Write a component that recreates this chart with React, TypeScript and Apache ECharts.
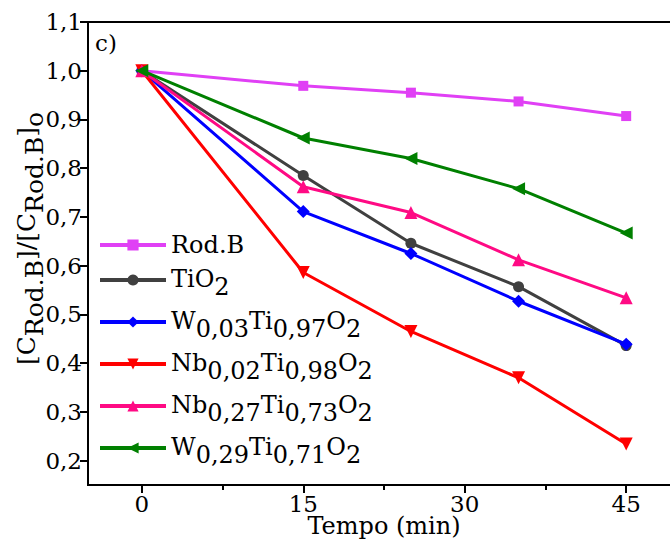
import React, { useEffect, useRef } from 'react';
import * as echarts from 'echarts';

const times = [0, 15, 25, 35, 45];
const rodB = [1.0, 0.969, 0.955, 0.937, 0.907];
const tio2 = [1.0, 0.785, 0.646, 0.557, 0.436];
const w003 = [1.0, 0.711, 0.625, 0.527, 0.439];
const nb002 = [1.0, 0.586, 0.465, 0.37, 0.234];
const nb027 = [1.0, 0.762, 0.709, 0.612, 0.534];
const w029 = [1.0, 0.862, 0.82, 0.758, 0.667];

const xTicks = [0, 15, 30, 45];
const xMinorTicks = [7.5, 22.5, 37.5];
const yTicks = [0.2, 0.3, 0.4, 0.5, 0.6, 0.7, 0.8, 0.9, 1.0, 1.1];

const seriesNames = ['Rod.B', 'TiO2', 'W0,03Ti0,97O2', 'Nb0,02Ti0,98O2', 'Nb0,27Ti0,73O2', 'W0,29Ti0,71O2'];
const legendLabels = [
  '{r|Rod.B}',
  '{n|TiO}{s|2}',
  '{n|W}{s|0,03}{n|Ti}{s|0,97}{n|O}{s|2}',
  '{n|Nb}{s|0,02}{n|Ti}{s|0,98}{n|O}{s|2}',
  '{n|Nb}{s|0,27}{n|Ti}{s|0,73}{n|O}{s|2}',
  '{n|W}{s|0,29}{n|Ti}{s|0,71}{n|O}{s|2}',
];

const FONT = 'DejaVu Serif';

export default function App() {
  const ref = useRef<HTMLDivElement>(null);
  useEffect(() => {
    if (!ref.current) return;
    const chart = echarts.init(ref.current, undefined, { renderer: 'svg' });

    const seriesData = [rodB, tio2, w003, nb002, nb027, w029];
    const colors = ['#E040F5', '#404040', '#0000FF', '#FF0000', '#FF0A84', '#008000'];
    const symbols = ['rect', 'circle', 'diamond', 'triangle', 'triangle', 'triangle'];
    const rotates = [0, 0, 0, 180, 0, 90];
    const sizes = [10, 11, 13, 13, 13, 13];

    const legendFont = 24;
    const legendRich = {
      r: { fontSize: legendFont, fontFamily: FONT, color: '#000', lineHeight: 26 },
      n: { fontSize: legendFont, fontFamily: FONT, color: '#000', lineHeight: 26, verticalAlign: 'top' },
      s: { fontSize: legendFont, fontFamily: FONT, color: '#000', lineHeight: 26, padding: [8, 0, 0, 0], verticalAlign: 'top' },
    };

    const axisRich = {
      n: { fontSize: 25, fontFamily: FONT, color: '#000', lineHeight: 27, verticalAlign: 'top' },
      s: { fontSize: 25, fontFamily: FONT, color: '#000', lineHeight: 27, padding: [8, 0, 0, 0], verticalAlign: 'top' },
    };

    chart.setOption({
      animation: false,
      backgroundColor: '#fff',
      textStyle: { fontFamily: FONT },
      grid: {
        left: 88,
        top: 22,
        width: 592,
        height: 463,
        show: true,
        borderColor: '#000',
        borderWidth: 2,
        backgroundColor: 'transparent',
        containLabel: false,
        outerBoundsMode: 'none',
      },
      legend: {
        orient: 'vertical',
        left: 98,
        top: 233,
        padding: 0,
        itemGap: 10,
        itemWidth: 66,
        itemHeight: 14,
        selectedMode: false,
        data: seriesNames,
        formatter: (name: string) => legendLabels[seriesNames.indexOf(name)],
        lineStyle: { width: 4 },
        textStyle: { fontSize: legendFont, fontFamily: FONT, color: '#000', rich: legendRich },
      },
      xAxis: [
        {
          type: 'value',
          min: -5,
          max: 50,
          position: 'bottom',
          axisLine: { show: true, onZero: false, lineStyle: { color: '#000', width: 2 } },
          axisTick: { show: true, customValues: xTicks, length: 8, lineStyle: { color: '#000', width: 2 } },
          axisLabel: { customValues: xTicks, fontSize: 23, fontFamily: FONT, color: '#000', margin: 7 },
          splitLine: { show: false },
          name: 'Tempo (min)',
          nameLocation: 'middle',
          nameGap: 29,
          nameMoveOverlap: false,
          nameTextStyle: { fontSize: 24, fontFamily: FONT, color: '#000' },
        },
        {
          type: 'value',
          min: -5,
          max: 50,
          position: 'bottom',
          axisLine: { show: false, onZero: false },
          axisTick: { show: true, customValues: xMinorTicks, length: 5, lineStyle: { color: '#000', width: 2 } },
          axisLabel: { show: false },
          splitLine: { show: false },
        },
      ],
      yAxis: {
        type: 'value',
        min: 0.15,
        max: 1.1,
        axisLine: { show: true, onZero: false, lineStyle: { color: '#000', width: 2 } },
        axisTick: { show: true, customValues: yTicks, length: 8, lineStyle: { color: '#000', width: 2 } },
        axisLabel: {
          customValues: yTicks,
          formatter: (v: number) => v.toFixed(1).replace('.', ','),
          fontSize: 23,
          fontFamily: FONT,
          color: '#000',
          margin: 6,
        },
        splitLine: { show: false },
        name: '{n|[C}{s|Rod.B}{n|]/[C}{s|Rod.B}{n|]}{s|o}',
        nameLocation: 'middle',
        nameGap: 47,
        nameMoveOverlap: false,
        nameTextStyle: { fontSize: 25, fontFamily: FONT, color: '#000', rich: axisRich, padding: [0, 0, 0, 30] },
      },
      graphic: [
        {
          type: 'text',
          left: 95,
          top: 31,
          style: { text: 'c)', fontSize: 23, fontFamily: FONT, fill: '#000' },
        },
      ],
      series: seriesNames.map((name, i) => ({
        name,
        type: 'line',
        xAxisIndex: 0,
        yAxisIndex: 0,
        data: times.map((t, j) => [t, seriesData[i][j]]),
        symbol: symbols[i],
        symbolSize: sizes[i],
        symbolRotate: rotates[i],
        lineStyle: { color: colors[i], width: 3 },
        itemStyle: { color: colors[i] },
        emphasis: { disabled: true },
      })),
    });
    return () => chart.dispose();
  }, []);
  return <div ref={ref} style={{ position: 'fixed', left: 0, top: 0, width: 670, height: 545 }} />;
}
